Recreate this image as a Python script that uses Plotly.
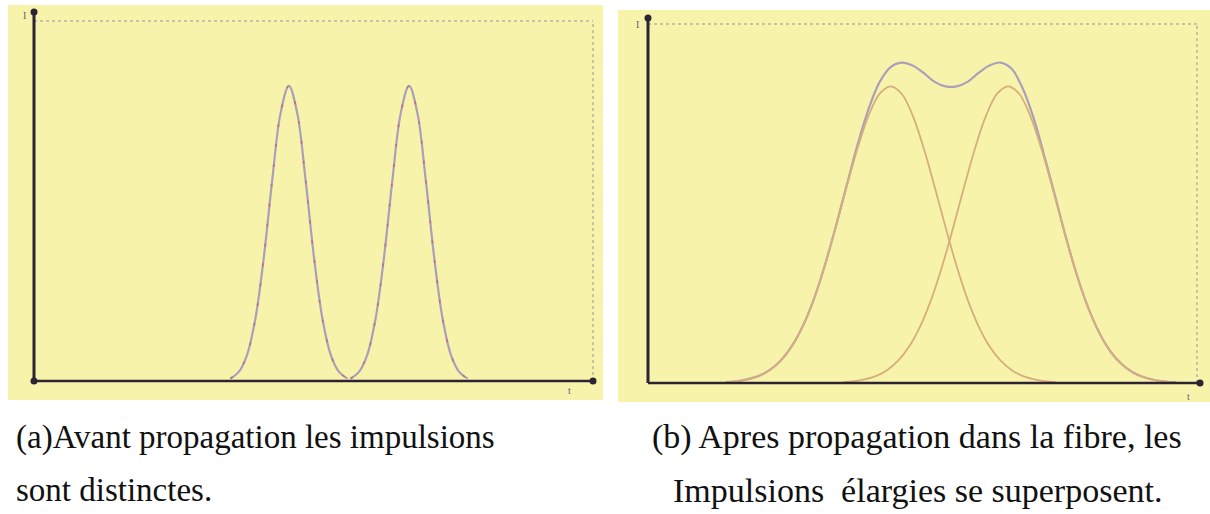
import plotly.graph_objects as go

# ---------------- data ----------------
# Panel (a): two narrow pulses, time axis 0..100, intensity normalised to peak = 1
a_t_pulse1 = [35.1, 36.6, 38.1, 39.6, 41.1, 42.6, 44.1, 45.6, 47.1, 48.6, 50.1, 51.6, 53.1, 54.6, 56.1]
a_i_pulse1 = [0.008, 0.030, 0.088, 0.211, 0.417, 0.678, 0.907, 1.0, 0.907, 0.678, 0.417, 0.211, 0.088, 0.030, 0.008]
a_t_pulse2 = [56.6, 58.1, 59.6, 61.1, 62.6, 64.1, 65.6, 67.1, 68.6, 70.1, 71.6, 73.1, 74.6, 76.1, 77.6]
a_i_pulse2 = [0.008, 0.030, 0.088, 0.211, 0.417, 0.678, 0.907, 1.0, 0.907, 0.678, 0.417, 0.211, 0.088, 0.030, 0.008]

# Panel (b): two broadened pulses and their superposition
b_t_pulse1 = [14.2, 16.2, 18.2, 20.2, 22.2, 24.2, 26.2, 28.2, 30.2, 32.2, 34.2, 36.2, 38.2, 40.2, 42.2,
              44.2, 46.2, 48.2, 50.2, 52.2, 54.2, 56.2, 58.2, 60.2, 62.2, 64.2, 66.2, 68.2, 70.2, 72.2, 74.2]
b_i_pulse1 = [0.003, 0.006, 0.013, 0.024, 0.044, 0.076, 0.124, 0.192, 0.282, 0.395, 0.525, 0.662, 0.793, 0.902, 0.975,
              1.0, 0.975, 0.902, 0.793, 0.662, 0.525, 0.395, 0.282, 0.192, 0.124, 0.076, 0.044, 0.024, 0.013, 0.006, 0.003]
b_t_pulse2 = [35.6, 37.6, 39.6, 41.6, 43.6, 45.6, 47.6, 49.6, 51.6, 53.6, 55.6, 57.6, 59.6, 61.6, 63.6,
              65.6, 67.6, 69.6, 71.6, 73.6, 75.6, 77.6, 79.6, 81.6, 83.6, 85.6, 87.6, 89.6, 91.6, 93.6, 95.6]
b_i_pulse2 = [0.003, 0.006, 0.013, 0.024, 0.044, 0.076, 0.124, 0.192, 0.282, 0.395, 0.525, 0.662, 0.793, 0.902, 0.975,
              1.0, 0.975, 0.902, 0.793, 0.662, 0.525, 0.395, 0.282, 0.192, 0.124, 0.076, 0.044, 0.024, 0.013, 0.006, 0.003]
b_t_sum = [14.2, 16.2, 18.2, 20.2, 22.2, 24.2, 26.2, 28.2, 30.2, 32.2, 34.2, 36.2, 38.2, 40.2, 42.2,
           44.2, 46.2, 48.2, 50.2, 52.2, 54.2, 56.2, 58.2, 60.2, 62.2, 64.2, 66.2, 68.2, 70.2, 72.2,
           74.2, 76.2, 78.2, 80.2, 82.2, 84.2, 86.2, 88.2, 90.2, 92.2, 94.2, 96.2]
b_i_sum = [0.003, 0.006, 0.013, 0.024, 0.044, 0.076, 0.124, 0.192, 0.282, 0.396, 0.527, 0.667, 0.805, 0.925, 1.015,
           1.065, 1.08, 1.07, 1.045, 1.015, 1.0, 1.0, 1.015, 1.045, 1.07, 1.08, 1.06, 0.995, 0.895, 0.765,
           0.627, 0.486, 0.359, 0.253, 0.169, 0.107, 0.065, 0.037, 0.020, 0.010, 0.005, 0.002]

axis_label_y = "I"
axis_label_x = "t"
caption_a = ["(a)Avant propagation les impulsions", "sont distinctes."]
caption_b = ["(b) Apres propagation dans la fibre, les", "Impulsions  élargies se superposent."]

# ---------------- layout helpers ----------------
W, H = 1210, 514
def fx(p):
    return p / W
def fy(p):
    return 1 - p / H

YELLOW = "#f8f3ab"
AXIS = "#2c2333"
LAV = "#ab9fba"
TAN = "#d6ae7e"
RED = "#c45a72"
BORDER = "#9a90a8"

fig = go.Figure()

# panel (a)
fig.add_trace(go.Scatter(x=a_t_pulse1, y=a_i_pulse1, mode="lines", line=dict(color=LAV, width=2.2, shape="spline"),
                         xaxis="x", yaxis="y", hoverinfo="skip"))
fig.add_trace(go.Scatter(x=a_t_pulse2, y=a_i_pulse2, mode="lines", line=dict(color=LAV, width=2.2, shape="spline"),
                         xaxis="x", yaxis="y", hoverinfo="skip"))
fig.add_trace(go.Scatter(x=a_t_pulse1, y=a_i_pulse1, mode="lines",
                         line=dict(color=RED, width=1.6, shape="spline", dash="3px,17px"),
                         opacity=0.7, xaxis="x", yaxis="y", hoverinfo="skip"))
fig.add_trace(go.Scatter(x=a_t_pulse2, y=a_i_pulse2, mode="lines",
                         line=dict(color=RED, width=1.6, shape="spline", dash="3px,17px"),
                         opacity=0.7, xaxis="x", yaxis="y", hoverinfo="skip"))

# panel (b)
fig.add_trace(go.Scatter(x=b_t_sum, y=b_i_sum, mode="lines", line=dict(color=LAV, width=2.2, shape="spline"),
                         xaxis="x2", yaxis="y2", hoverinfo="skip"))
fig.add_trace(go.Scatter(x=b_t_pulse1, y=b_i_pulse1, mode="lines", line=dict(color=TAN, width=1.8, shape="spline"),
                         xaxis="x2", yaxis="y2", hoverinfo="skip"))
fig.add_trace(go.Scatter(x=b_t_pulse2, y=b_i_pulse2, mode="lines", line=dict(color=TAN, width=1.8, shape="spline"),
                         xaxis="x2", yaxis="y2", hoverinfo="skip"))

ax_common = dict(showgrid=False, zeroline=False, showticklabels=False, ticks="", showline=False, fixedrange=True)

xa_dom = [fx(34), fx(593)]
ya_dom = [fy(381), fy(21)]
xb_dom = [fx(648), fx(1197)]
yb_dom = [fy(383), fy(24)]

fig.update_layout(
    width=W, height=H,
    margin=dict(l=0, r=0, t=0, b=0),
    paper_bgcolor="white",
    plot_bgcolor=YELLOW,
    showlegend=False,
    xaxis=dict(domain=xa_dom, range=[0, 100], anchor="y", **ax_common),
    yaxis=dict(domain=ya_dom, range=[0, 1.22], anchor="x", **ax_common),
    xaxis2=dict(domain=xb_dom, range=[0, 100], anchor="y2", **ax_common),
    yaxis2=dict(domain=yb_dom, range=[0, 1.21], anchor="x2", **ax_common),
)

shapes = []
# yellow paper backgrounds
shapes.append(dict(type="rect", xref="paper", yref="paper", x0=fx(8), x1=fx(603), y0=fy(400), y1=fy(5),
                   fillcolor=YELLOW, line=dict(width=0), layer="below"))
shapes.append(dict(type="rect", xref="paper", yref="paper", x0=fx(618), x1=fx(1210), y0=fy(402), y1=fy(10),
                   fillcolor=YELLOW, line=dict(width=0), layer="below"))

def frame(xd, yd, ytop_px, xend_px, origin_dot):
    out = []
    # dotted top and right borders
    out.append(dict(type="line", xref="paper", yref="paper", x0=xd[0], x1=xd[1], y0=yd[1], y1=yd[1],
                    line=dict(color=BORDER, width=1, dash="dot"), layer="above"))
    out.append(dict(type="line", xref="paper", yref="paper", x0=xd[1], x1=xd[1], y0=yd[0], y1=yd[1],
                    line=dict(color=BORDER, width=1, dash="dot"), layer="above"))
    # axis lines
    out.append(dict(type="line", xref="paper", yref="paper", x0=xd[0], x1=xd[0], y0=yd[0], y1=fy(ytop_px),
                    line=dict(color=AXIS, width=3), layer="above"))
    out.append(dict(type="line", xref="paper", yref="paper", x0=xd[0], x1=fx(xend_px), y0=yd[0], y1=yd[0],
                    line=dict(color=AXIS, width=2.5), layer="above"))
    dots = [(xd[0], fy(ytop_px)), (fx(xend_px), yd[0])]
    if origin_dot:
        dots.append((xd[0], yd[0]))
    for (ax_, ay_) in dots:
        out.append(dict(type="circle", xref="paper", yref="paper", xsizemode="pixel", ysizemode="pixel",
                        xanchor=ax_, yanchor=ay_, x0=-3.5, x1=3.5, y0=-3.5, y1=3.5,
                        fillcolor=AXIS, line=dict(width=0), layer="above"))
    return out

shapes += frame(xa_dom, ya_dom, 12, 593, True)
shapes += frame(xb_dom, yb_dom, 18, 1200, False)
fig.update_layout(shapes=shapes)

ann = []
small = dict(family="Liberation Serif", size=10, color="#6a6070")
ann.append(dict(x=fx(24), y=fy(15), xref="paper", yref="paper", text=axis_label_y, showarrow=False,
                font=small, xanchor="center", yanchor="middle"))
ann.append(dict(x=fx(569), y=fy(390), xref="paper", yref="paper", text=axis_label_x, showarrow=False,
                font=small, xanchor="center", yanchor="middle"))
ann.append(dict(x=fx(637), y=fy(24), xref="paper", yref="paper", text=axis_label_y, showarrow=False,
                font=small, xanchor="center", yanchor="middle"))
ann.append(dict(x=fx(1188), y=fy(396), xref="paper", yref="paper", text=axis_label_x, showarrow=False,
                font=small, xanchor="center", yanchor="middle"))

cap_font = dict(family="Liberation Serif, Times New Roman, serif", size=33, color="#111111")
cap_font_b = dict(family="Liberation Serif, Times New Roman, serif", size=34, color="#111111")
ann.append(dict(x=fx(14), y=fy(437), xref="paper", yref="paper", text=caption_a[0], showarrow=False,
                font=cap_font, xanchor="left", yanchor="middle"))
ann.append(dict(x=fx(14), y=fy(490), xref="paper", yref="paper", text=caption_a[1], showarrow=False,
                font=cap_font, xanchor="left", yanchor="middle"))
ann.append(dict(x=fx(917), y=fy(437), xref="paper", yref="paper", text=caption_b[0], showarrow=False,
                font=cap_font_b, xanchor="center", yanchor="middle"))
ann.append(dict(x=fx(917), y=fy(490), xref="paper", yref="paper", text=caption_b[1], showarrow=False,
                font=cap_font_b, xanchor="center", yanchor="middle"))
fig.update_layout(annotations=ann)

fig.write_html("out.html", config={"displayModeBar": False, "staticPlot": True},
               post_script="document.body.style.margin='0';document.body.style.overflow='hidden';")
